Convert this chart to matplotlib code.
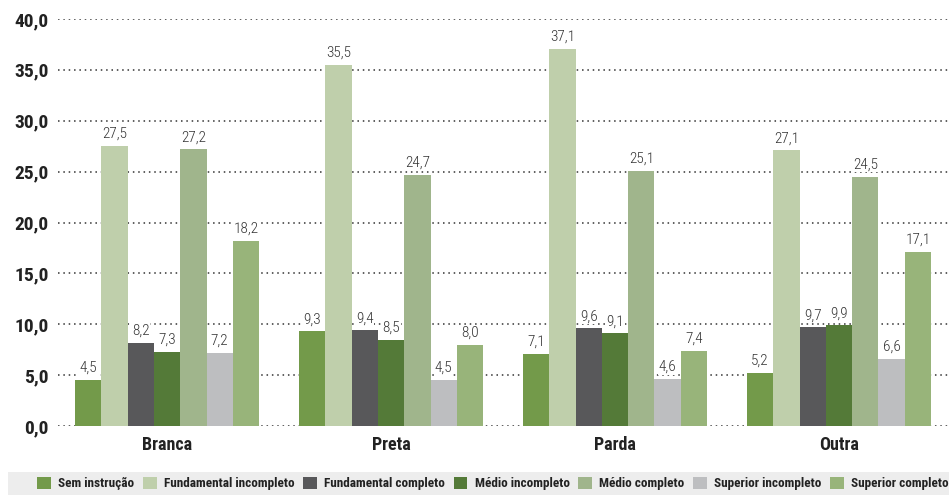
import matplotlib
matplotlib.use("Agg")
import matplotlib.pyplot as plt
import numpy as np
from matplotlib import font_manager as fm

names = {f.name for f in fm.fontManager.ttflist}
FONT = "Roboto Condensed" if "Roboto Condensed" in names else "DejaVu Sans"
plt.rcParams['font.family'] = [FONT, 'DejaVu Sans']

categories = ["Branca", "Preta", "Parda", "Outra"]
series = ["Sem instrução", "Fundamental incompleto", "Fundamental completo",
          "Médio incompleto", "Médio completo", "Superior incompleto", "Superior completo"]
values = {
    "Sem instrução":          [4.5, 9.3, 7.1, 5.2],
    "Fundamental incompleto": [27.5, 35.5, 37.1, 27.1],
    "Fundamental completo":   [8.2, 9.4, 9.6, 9.7],
    "Médio incompleto":       [7.3, 8.5, 9.1, 9.9],
    "Médio completo":         [27.2, 24.7, 25.1, 24.5],
    "Superior incompleto":    [7.2, 4.5, 4.6, 6.6],
    "Superior completo":      [18.2, 8.0, 7.4, 17.1],
}
colors = ["#739A4A", "#BFCFAB", "#58585A", "#547A38", "#A0B58C", "#BDBEC0", "#98B47A"]
yticks = [0, 5, 10, 15, 20, 25, 30, 35, 40]

W, H = 949, 495
fig = plt.figure(figsize=(W/100, H/100), dpi=100)
ax = fig.add_axes([58/W, (H-426)/H, (W-58)/W, (426-19)/H])

x = np.arange(len(categories))
bw = 26.3/224
n = len(series)
for i, s in enumerate(series):
    pos = x + (i - (n-1)/2) * bw
    bars = ax.bar(pos, values[s], width=bw, color=colors[i], label=s, zorder=3,
                  linewidth=0)
    for b, v in zip(bars, values[s]):
        ax.text(b.get_x() + b.get_width()/2, v + 0.5, f"{v:.1f}".replace(".", ","),
                ha="center", va="bottom", fontsize=11, fontweight="light",
                color="#333333", zorder=4,
                bbox=dict(boxstyle="square,pad=0.05", facecolor="white", edgecolor="none"))

ax.set_xlim(-0.487, 3.491)
ax.set_ylim(0, 40)
ax.set_yticks(yticks)
ax.set_yticklabels([f"{t:.1f}".replace(".", ",") for t in yticks],
                   fontsize=14, fontweight="bold", color="#222222")
ax.set_xticks(x)
ax.set_xticklabels(categories, fontsize=13, fontweight="bold", color="#222222")
ax.tick_params(axis="both", length=0)
ax.tick_params(axis="x", pad=7.5)
ax.tick_params(axis="y", pad=6.5)
for sp in ax.spines.values():
    sp.set_visible(False)
ax.yaxis.grid(True, linestyle=(0, (1, 2.5)), color="#333333", linewidth=1.1, zorder=0)
ax.set_axisbelow(True)

band = plt.Rectangle((8/W, 0), (W-8)/W, 23/H, transform=fig.transFigure,
                     facecolor="#EDEDED", edgecolor="none", zorder=0)
fig.patches.append(band)
leg = fig.legend(loc="center right", bbox_to_anchor=(1.0, 11.5/H), ncol=7, frameon=False,
                 fontsize=9.5, handlelength=1.05, handleheight=1.05, handletextpad=0.55,
                 columnspacing=0.65, borderaxespad=0, borderpad=0)
for t in leg.get_texts():
    t.set_fontweight("bold")
    t.set_color("#222222")

fig.savefig("out.png", dpi=100)
